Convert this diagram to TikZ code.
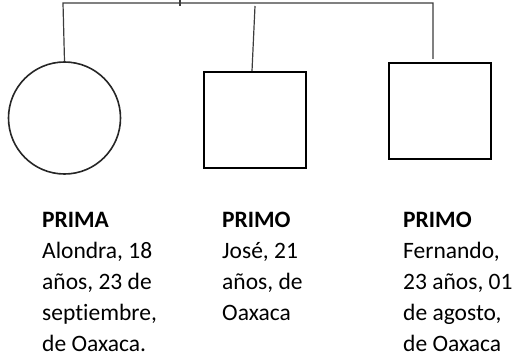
\documentclass[tikz,border=0pt]{standalone}
\usepackage{fontspec}
\setmainfont{Carlito}[Ligatures={NoCommon}]
\definecolor{linegray}{HTML}{3C3C3C}
\tikzset{
  conn/.style={draw=linegray,line width=1.2pt},
  member/.style={draw,line width=2pt,inner sep=0pt},
  info/.style={anchor=north west,align=left,inner sep=0pt,
    font=\fontsize{23.5}{31}\selectfont}
}
\begin{document}
\begin{tikzpicture}[x=1pt,y=-1pt]
  \useasboundingbox (0,0) rectangle (525,361);

  \node [member,circle,draw=black!85,line width=1.6pt,minimum size=112pt]
    (prima) at (64.5,118) {};
  \node [member,rectangle,minimum width=102pt,minimum height=95pt]
    (primoA) at (254.5,120) {};
  \node [member,rectangle,minimum width=102pt,minimum height=95pt]
    (primoB) at (439.5,111) {};

  \coordinate (barL) at (63,3);
  \coordinate (barR) at (433,3);
  \coordinate (tickT) at (180,0);
  \coordinate (tickB) at (180,6);
  \coordinate (dropM) at (255,6);
  \coordinate (endM) at (252,71);
  \coordinate (dropR) at (433,59);

  \draw [conn] (prima.north) -- (barL) -- (barR) -- (dropR);
  \draw [conn] (tickT) -- (tickB);
  \draw [conn] (dropM) -- (endM);

  \node [info] (txtA) at (42,212)
    {\textbf{PRIMA}\\Alondra, 18\\años, 23 de\\septiembre,\\de Oaxaca.};
  \node [info] (txtB) at (222,212)
    {\textbf{PRIMO}\\José, 21\\años, de\\Oaxaca};
  \node [info] (txtC) at (403,212)
    {\textbf{PRIMO}\\Fernando,\\23 años, 01\\de agosto,\\de Oaxaca};
\end{tikzpicture}
\end{document}
